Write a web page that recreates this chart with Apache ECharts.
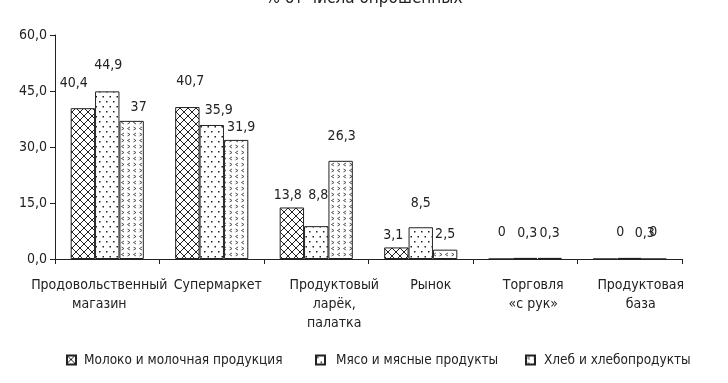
<!DOCTYPE html>
<html><head><meta charset="utf-8">
<script src="https://cdn.jsdelivr.net/npm/echarts@6/dist/echarts.min.js"></script>
<style>html,body{margin:0;padding:0;background:#fff}#c{width:728px;height:383px}</style>
</head><body><div id="c"></div>
<script>
const titleText = '% от числа опрошенных';
const categories = ['Продовольственный\nмагазин','Супермаркет','Продуктовый\nларёк,\nпалатка','Рынок','Торговля\n«с рук»','Продуктовая\nбаза'];
const seriesNames = ['Молоко и молочная продукция','Мясо и мясные продукты','Хлеб и хлебопродукты'];
const milk  = [40.4, 40.7, 13.8, 3.1, 0, 0];
const meat  = [44.9, 35.9, 8.8, 8.5, 0.3, 0.3];
const bread = [37, 31.9, 26.3, 2.5, 0.3, 0];
const yTicks = [0, 15, 30, 45, 60];

// label nudges (style only)
const labelOffsets = [
  [[-9,-13],[3,-14],[-4,0],[-3,0],[1,-14],[15,-14]],
  [[1,-14],[7,-3],[2,-19],[0,-12],[2,-13],[15,-13]],
  [[7,-2],[5,-1],[1,-12],[0,-3],[0,-13],[-1,-14]]
];
const catLabelShift = [-8, 6, 18, 10, 8, 11];
const legendLeft = [61, 310, 520];
const legendPad = [3, 6, 4];

const FONT = "'DejaVu Sans Condensed','Liberation Sans',sans-serif";
const INK = '#222';

function tile(w, h, draw){
  const c = document.createElement('canvas'); c.width = w; c.height = h;
  const g = c.getContext('2d'); g.fillStyle = '#fff'; g.fillRect(0,0,w,h);
  g.strokeStyle = INK; g.fillStyle = INK; g.lineWidth = 1; draw(g); return c;
}
const crossTile = tile(8, 8, g => {
  g.beginPath(); g.moveTo(0,0); g.lineTo(8,8); g.moveTo(8,0); g.lineTo(0,8); g.stroke();
});
const dotTile = tile(7, 10, g => {
  g.fillRect(1,1,1.5,1.5); g.fillRect(4.5,6,1.5,1.5);
});
const chevTile = tile(12, 12, g => {
  g.lineWidth = 0.9;
  g.strokeStyle = '#444';
  g.beginPath();
  g.moveTo(4,1); g.lineTo(1.5,2.5); g.lineTo(4,4);
  g.moveTo(7.5,1); g.lineTo(10,2.5); g.lineTo(7.5,4);
  g.moveTo(1.5,7); g.lineTo(4,8.5); g.lineTo(1.5,10);
  g.moveTo(10,7); g.lineTo(7.5,8.5); g.lineTo(10,10);
  g.stroke();
});
const patterns = [crossTile, dotTile, chevTile];
const values = [milk, meat, bread];

const fmt = v => String(v).replace('.', ',');

const chart = echarts.init(document.getElementById('c'));
chart.setOption({
  animation: false,
  backgroundColor: '#fff',
  title: { text: titleText, left: 'center', top: -15,
    textStyle: { fontFamily: FONT, fontSize: 17, fontWeight: 'normal', color: INK } },
  legend: seriesNames.map((name, i) => ({
    left: legendLeft[i], top: 348, itemWidth: 9, itemHeight: 9,
    icon: 'rect',
    textStyle: { fontFamily: FONT, fontSize: 13.5, color: INK, padding: [0,0,0,legendPad[i]] },
    data: [name]
  })),
  grid: { left: 55, right: 46, top: 35, bottom: 124 },
  xAxis: {
    type: 'category',
    data: categories.map((c, i) => ({
      value: c,
      textStyle: { padding: catLabelShift[i] >= 0 ? [0,0,0,2*catLabelShift[i]] : [0,-2*catLabelShift[i],0,0] }
    })),
    axisLine: { lineStyle: { color: INK, width: 1 } },
    axisTick: { show: true, length: 5, lineStyle: { color: INK } },
    axisLabel: { fontFamily: FONT, fontSize: 14, color: INK, margin: 17, lineHeight: 19, interval: 0 }
  },
  yAxis: {
    type: 'value', min: yTicks[0], max: yTicks[yTicks.length-1], interval: yTicks[1]-yTicks[0],
    axisLine: { show: true, lineStyle: { color: INK, width: 1 } },
    axisTick: { show: true, length: 5, lineStyle: { color: INK } },
    splitLine: { show: false },
    axisLabel: { fontFamily: FONT, fontSize: 14, color: INK, margin: 8,
      formatter: v => v.toFixed(1).replace('.', ',') }
  },
  series: seriesNames.map((name, si) => ({
    name, type: 'bar', barGap: '0%', barCategoryGap: '30%',
    itemStyle: { color: { image: patterns[si], repeat: 'repeat' }, borderColor: INK, borderWidth: 1 },
    label: { show: true, position: 'top', distance: 5, fontFamily: FONT, fontSize: 14, lineHeight: 14, color: INK,
      formatter: p => fmt(p.value) },
    data: values[si].map((v, i) => ({ value: v, label: { offset: labelOffsets[si][i] } }))
  }))
});
</script></body></html>
